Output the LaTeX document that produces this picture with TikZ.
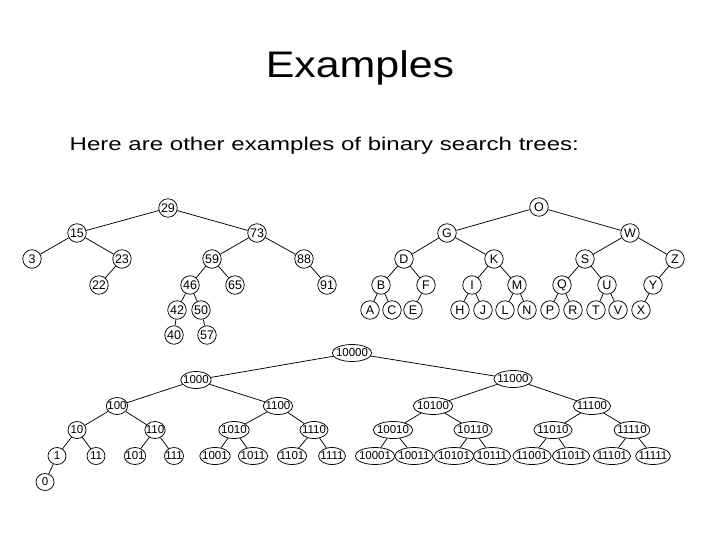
\documentclass[tikz,border=0pt]{standalone}
\usepackage{fontspec}
\setmainfont{Liberation Sans}
\usetikzlibrary{shapes.geometric}

\begin{document}
\begin{tikzpicture}[
  x=1pt, y=-1pt,
  every node/.style={font=\fontsize{12.5}{14}\selectfont},
  keynode/.style={draw, circle, minimum size=18.5pt, inner sep=0pt, line width=0.75pt},
  bitnode/.style={draw, ellipse, minimum width=18pt, minimum height=17pt, inner xsep=-2pt, inner ysep=0pt, line width=0.75pt, font=\fontsize{11.5}{13}\selectfont},
  edge/.style={line width=0.75pt}
]
\useasboundingbox (0,0) rectangle (720,540);

% Heading
\node[anchor=base, inner sep=0pt, font=\fontsize{37}{44}\selectfont] (title) at (360,78) {\scalebox{1.16}[1]{Examples}};
\node[anchor=base west, inner sep=0pt, font=\fontsize{18.5}{22}\selectfont] (intro) at (69.5,150.5)
  {\scalebox{1.3}[1]{Here are other examples of binary search trees:}};

% Tree of numbers
\node[keynode] (n29) at (168,208) {29};
\node[keynode] (n15) at (77,233) {15};
\node[keynode] (n73) at (257,233) {73};
\node[keynode] (n3)  at (32,259) {3};
\node[keynode] (n23) at (122,259) {23};
\node[keynode] (n59) at (212,259) {59};
\node[keynode] (n88) at (304,259) {88};
\node[keynode] (n22) at (99,285) {22};
\node[keynode] (n46) at (190,285) {46};
\node[keynode] (n65) at (235,285) {65};
\node[keynode] (n91) at (327,285) {91};
\node[keynode] (n42) at (177,310) {42};
\node[keynode] (n50) at (201,310) {50};
\node[keynode] (n40) at (174,335) {40};
\node[keynode] (n57) at (207,335) {57};

\draw[edge] (n29) -- (n15);
\draw[edge] (n29) -- (n73);
\draw[edge] (n15) -- (n3);
\draw[edge] (n15) -- (n23);
\draw[edge] (n23) -- (n22);
\draw[edge] (n73) -- (n59);
\draw[edge] (n73) -- (n88);
\draw[edge] (n59) -- (n46);
\draw[edge] (n59) -- (n65);
\draw[edge] (n88) -- (n91);
\draw[edge] (n46) -- (n42);
\draw[edge] (n46) -- (n50);
\draw[edge] (n42) -- (n40);
\draw[edge] (n50) -- (n57);

% Tree of letters
\node[keynode] (lO) at (539,207) {O};
\node[keynode] (lG) at (447,233) {G};
\node[keynode] (lW) at (630,233) {W};
\node[keynode] (lD) at (404,259) {D};
\node[keynode] (lK) at (494,259) {K};
\node[keynode] (lS) at (585,259) {S};
\node[keynode] (lZ) at (675,259) {Z};
\node[keynode] (lB) at (381,285) {B};
\node[keynode] (lF) at (426,285) {F};
\node[keynode] (lI) at (472,285) {I};
\node[keynode] (lM) at (517,285) {M};
\node[keynode] (lQ) at (562,285) {Q};
\node[keynode] (lU) at (607,285) {U};
\node[keynode] (lY) at (653,285) {Y};
\node[keynode] (lA) at (370,310) {A};
\node[keynode] (lC) at (392,310) {C};
\node[keynode] (lE) at (413,310) {E};
\node[keynode] (lH) at (460,310) {H};
\node[keynode] (lJ) at (483,310) {J};
\node[keynode] (lL) at (505,310) {L};
\node[keynode] (lN) at (527,310) {N};
\node[keynode] (lP) at (550,310) {P};
\node[keynode] (lR) at (573,310) {R};
\node[keynode] (lT) at (596,310) {T};
\node[keynode] (lV) at (618,310) {V};
\node[keynode] (lX) at (641,310) {X};

\draw[edge] (lO) -- (lG);
\draw[edge] (lO) -- (lW);
\draw[edge] (lG) -- (lD);
\draw[edge] (lG) -- (lK);
\draw[edge] (lW) -- (lS);
\draw[edge] (lW) -- (lZ);
\draw[edge] (lD) -- (lB);
\draw[edge] (lD) -- (lF);
\draw[edge] (lK) -- (lI);
\draw[edge] (lK) -- (lM);
\draw[edge] (lS) -- (lQ);
\draw[edge] (lS) -- (lU);
\draw[edge] (lZ) -- (lY);
\draw[edge] (lB) -- (lA);
\draw[edge] (lB) -- (lC);
\draw[edge] (lF) -- (lE);
\draw[edge] (lI) -- (lH);
\draw[edge] (lI) -- (lJ);
\draw[edge] (lM) -- (lL);
\draw[edge] (lM) -- (lN);
\draw[edge] (lQ) -- (lP);
\draw[edge] (lQ) -- (lR);
\draw[edge] (lU) -- (lT);
\draw[edge] (lU) -- (lV);
\draw[edge] (lY) -- (lX);

% Tree of bit strings
\node[bitnode] (b10000) at (352,353) {10000};
\node[bitnode] (b1000)  at (196,380) {1000};
\node[bitnode] (b11000) at (513,379) {11000};
\node[bitnode] (b100)   at (117,406) {100};
\node[bitnode] (b1100)  at (278,406) {1100};
\node[bitnode] (b10100) at (433,406) {10100};
\node[bitnode] (b11100) at (592,406) {11100};
\node[bitnode] (b10)    at (77,430) {10};
\node[bitnode] (b110)   at (155,430) {110};
\node[bitnode] (b1010)  at (234,430) {1010};
\node[bitnode] (b1110)  at (314,430) {1110};
\node[bitnode] (b10010) at (393,430) {10010};
\node[bitnode] (b10110) at (473,430) {10110};
\node[bitnode] (b11010) at (553,430) {11010};
\node[bitnode] (b11110) at (632,430) {11110};
\node[bitnode] (b1)     at (57,456) {1};
\node[bitnode] (b11)    at (96,456) {11};
\node[bitnode] (b101)   at (135,456) {101};
\node[bitnode] (b111)   at (174,456) {111};
\node[bitnode] (b1001)  at (215,456) {1001};
\node[bitnode] (b1011)  at (253,456) {1011};
\node[bitnode] (b1101)  at (292,456) {1101};
\node[bitnode] (b1111)  at (332,456) {1111};
\node[bitnode] (b10001) at (375,456) {10001};
\node[bitnode] (b10011) at (414,456) {10011};
\node[bitnode] (b10101) at (454,456) {10101};
\node[bitnode] (b10111) at (492,456) {10111};
\node[bitnode] (b11001) at (532,456) {11001};
\node[bitnode] (b11011) at (571,456) {11011};
\node[bitnode] (b11101) at (612,456) {11101};
\node[bitnode] (b11111) at (653,456) {11111};
\node[bitnode] (b0)     at (45,482) {0};

\draw[edge] (b10000) -- (b1000);
\draw[edge] (b10000) -- (b11000);
\draw[edge] (b1000) -- (b100);
\draw[edge] (b1000) -- (b1100);
\draw[edge] (b11000) -- (b10100);
\draw[edge] (b11000) -- (b11100);
\draw[edge] (b100) -- (b10);
\draw[edge] (b100) -- (b110);
\draw[edge] (b1100) -- (b1010);
\draw[edge] (b1100) -- (b1110);
\draw[edge] (b10100) -- (b10010);
\draw[edge] (b10100) -- (b10110);
\draw[edge] (b11100) -- (b11010);
\draw[edge] (b11100) -- (b11110);
\draw[edge] (b10) -- (b1);
\draw[edge] (b10) -- (b11);
\draw[edge] (b1) -- (b0);
\draw[edge] (b110) -- (b101);
\draw[edge] (b110) -- (b111);
\draw[edge] (b1010) -- (b1001);
\draw[edge] (b1010) -- (b1011);
\draw[edge] (b1110) -- (b1101);
\draw[edge] (b1110) -- (b1111);
\draw[edge] (b10010) -- (b10001);
\draw[edge] (b10010) -- (b10011);
\draw[edge] (b10110) -- (b10101);
\draw[edge] (b10110) -- (b10111);
\draw[edge] (b11010) -- (b11001);
\draw[edge] (b11010) -- (b11011);
\draw[edge] (b11110) -- (b11101);
\draw[edge] (b11110) -- (b11111);
\end{tikzpicture}
\end{document}
